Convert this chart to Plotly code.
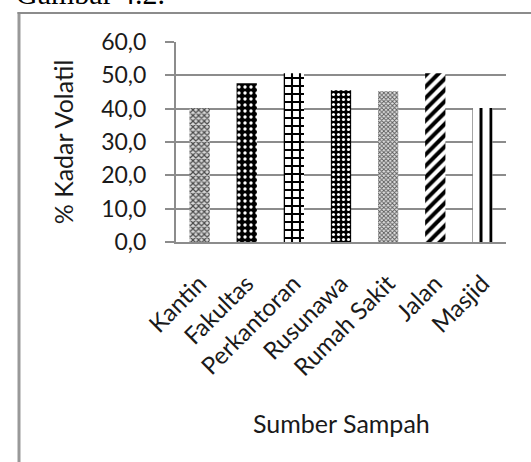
import plotly.graph_objects as go

categories = ["Kantin", "Fakultas", "Perkantoran", "Rusunawa", "Rumah Sakit", "Jalan", "Masjid"]
values = [40.1, 47.6, 50.6, 45.5, 45.2, 50.6, 40.2]
y_tickvals = [0, 10, 20, 30, 40, 50, 60]
y_ticktext = ["0,0", "10,0", "20,0", "30,0", "40,0", "50,0", "60,0"]

patterns = [
    dict(shape="x", fgcolor="#4a4a4a", bgcolor="#d8d8d8", size=4, solidity=0.5, fillmode="replace"),
    dict(shape=".", fgcolor="#ffffff", bgcolor="#000000", size=6, solidity=0.25, fillmode="replace"),
    dict(shape="+", fgcolor="#000000", bgcolor="#ffffff", size=8, solidity=0.45, fillmode="replace"),
    dict(shape=".", fgcolor="#ffffff", bgcolor="#000000", size=5, solidity=0.3, fillmode="replace"),
    dict(shape="x", fgcolor="#5a5a5a", bgcolor="#e0e0e0", size=3, solidity=0.5, fillmode="replace"),
    dict(shape="/", fgcolor="#000000", bgcolor="#ffffff", size=8, solidity=0.5, fillmode="replace"),
    dict(shape="|", fgcolor="#000000", bgcolor="#ffffff", size=10, solidity=0.3, fillmode="replace"),
]

fig = go.Figure()
for cat, val, pat in zip(categories, values, patterns):
    fig.add_trace(go.Bar(
        x=[cat], y=[val], width=0.43,
        marker=dict(pattern=pat, line=dict(width=0)),
        showlegend=False,
    ))

W, H = 531, 462
L, R, T, B = 176, 25, 42, 220
pw, ph = W - L - R, H - T - B

def px_x(x):
    return (x - L) / pw

def px_y(y):
    return (H - B - y) / ph

fig.update_layout(
    width=W, height=H,
    margin=dict(l=L, r=R, t=T, b=B, pad=0),
    paper_bgcolor="white", plot_bgcolor="white",
    font=dict(family="Lato", size=24, color="#1a1a1a"),
    xaxis=dict(
        categoryorder="array", categoryarray=categories,
        tickangle=-45, showgrid=False, showline=True, linecolor="#8c8c8c", linewidth=2,
        ticks="", automargin=False, ticklabelstandoff=16,
        tickfont=dict(family="Lato", size=24),
    ),
    yaxis=dict(
        range=[0, 60], tickvals=y_tickvals, ticktext=y_ticktext,
        showgrid=True, gridcolor="#8c8c8c", gridwidth=1.5,
        showline=True, linecolor="#8c8c8c", linewidth=2,
        ticks="outside", ticklen=9, tickcolor="#8c8c8c", tickwidth=1.5,
        ticklabelstandoff=14, zeroline=False, automargin=False,
        tickfont=dict(family="Lato", size=23),
        title=dict(text="% Kadar Volatil", standoff=20, font=dict(family="Lato", size=25)),
    ),
    annotations=[
        dict(text="Sumber Sampah", xref="paper", yref="paper",
             x=0.5, y=px_y(423), xanchor="center", yanchor="middle",
             showarrow=False, font=dict(family="Lato", size=25, color="#1a1a1a")),
        dict(text="Gambar 4.2.", xref="paper", yref="paper",
             x=px_x(14), y=px_y(12), xanchor="left", yanchor="bottom",
             showarrow=False, font=dict(family="Liberation Serif", size=30, color="#000000")),
    ],
    shapes=[
        dict(type="line", xref="paper", yref="paper", x0=px_x(19), x1=px_x(19), y0=px_y(12), y1=px_y(480),
             line=dict(color="#999999", width=3)),
        dict(type="line", xref="paper", yref="paper", x0=px_x(17.5), x1=px_x(560), y0=px_y(13), y1=px_y(13),
             line=dict(color="#8c8c8c", width=2)),
    ],
)

fig.write_html("out.html")
